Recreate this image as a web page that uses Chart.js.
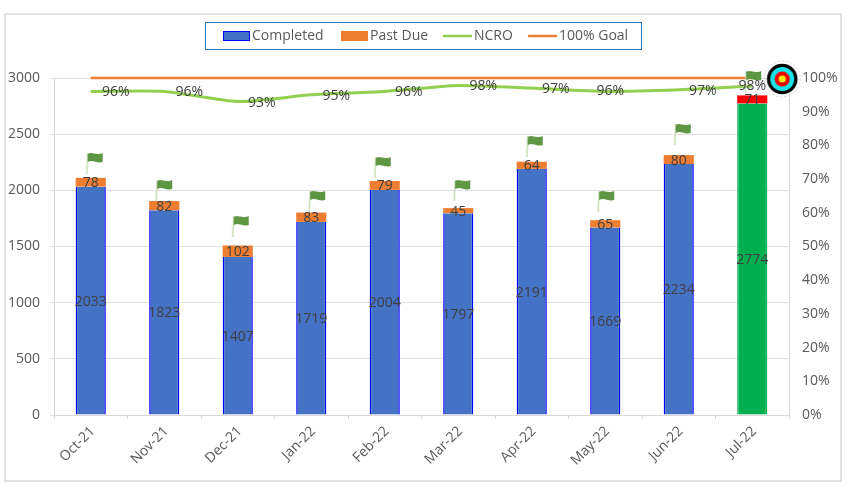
<!DOCTYPE html>
<html><head><meta charset="utf-8">
<script src="https://cdn.jsdelivr.net/npm/chart.js@4"></script>
<style>html,body{margin:0;padding:0;background:#fff}#w{width:849px;height:486px;position:relative}</style>
</head><body><div id="w"><canvas id="c" width="849" height="486"></canvas></div>
<script>
const categories=['Oct-21','Nov-21','Dec-21','Jan-22','Feb-22','Mar-22','Apr-22','May-22','Jun-22','Jul-22'];
const completed=[2033,1823,1407,1719,2004,1797,2191,1669,2234,2774];
const pastDue=[78,82,102,83,79,45,64,65,80,71];
const ncro=[96,96,93,95,96,97.8,97,96,96.5,97.6];
const goal=[100,100,100,100,100,100,100,100,100,100];
const flagLevel=[2288,2047,1727,1950,2252,2047,2439,1950,2546,3018];
const targetLevel=[null,null,null,null,null,null,null,null,null,100];
const legendNames=['Completed','Past Due','NCRO','100% Goal'];
const yTicks=[0,500,1000,1500,2000,2500,3000];

const FONT='"Open Sans", sans-serif', TXT='#404040', AX='#595959';
const BLUE='#4472C4',ORANGE='#ED7D31',LIME='#92D050',GREEN='#00B050',RED='#FF0000';
const flagDx=[4,0,3,6,-2,4,3,1,4,1];
const labelDx=[25,25,24,25,24,25,24,5,24,0];
const labelDy=[1,1,1,1,1,1,1,0,1,0];

function makeFlag(dx){
  const c=document.createElement('canvas');c.width=c.height=80;
  const g=c.getContext('2d');g.translate(40+dx,40);
  g.strokeStyle='#c6dbb8';g.lineWidth=1.5;g.beginPath();g.moveTo(-7,-5);g.lineTo(-8,16);g.stroke();
  g.fillStyle='#5e9644';g.beginPath();g.moveTo(-7,-4);
  g.bezierCurveTo(-3,-7,1,-2,8,-5);g.lineTo(8,4);g.bezierCurveTo(2,6,-2,1,-7,4);g.closePath();g.fill();
  return c;
}
function makeTarget(){
  const c=document.createElement('canvas');c.width=120;c.height=60;
  const g=c.getContext('2d');g.translate(60+30,31);
  g.setLineDash([2,2]);g.strokeStyle='#cfcfcf';g.lineWidth=1;g.beginPath();g.arc(0,0,18,0,7);g.stroke();g.setLineDash([]);
  [[15.3,'#000'],[12,'#19e3e8'],[7.6,'#f00000'],[3.6,'#f6ee10']].forEach(([r,col])=>{g.fillStyle=col;g.beginPath();g.arc(0,0,r,0,7);g.fill();});
  return c;
}
const frame={id:'frame',beforeDraw(ch){const g=ch.ctx;g.save();g.fillStyle='#fff';g.fillRect(0,0,849,486);
  g.strokeStyle='#d9d9d9';g.lineWidth=1.5;g.strokeRect(5,14,836,467);g.restore();}};
const legendBox={id:'legendBox',afterDraw(ch){const g=ch.ctx;g.save();
  g.strokeStyle='#2E75B6';g.lineWidth=1;g.strokeRect(205.5,22.5,436,27);
  const xs=[223,341,444,529],tx=[252,370,474,559];
  g.font='14px '+FONT;g.textBaseline='middle';g.textAlign='left';
  legendNames.forEach((n,i)=>{
    if(i<2){g.fillStyle=i?ORANGE:BLUE;g.fillRect(xs[i],31,27,10);
      if(!i){g.strokeStyle='#0000ff';g.lineWidth=1;g.strokeRect(xs[i]+.5,31.5,26,9);}}
    else{g.strokeStyle=i==2?LIME:ORANGE;g.lineWidth=2.5;g.lineCap='round';g.beginPath();g.moveTo(xs[i],36);g.lineTo(xs[i]+27,36);g.stroke();}
    g.fillStyle=AX;g.fillText(n,tx[i],36);
  });g.restore();}};
const valueLabels={id:'valueLabels',afterDatasetsDraw(ch){const g=ch.ctx;g.save();
  g.font='14px '+FONT;g.fillStyle=TXT;g.textAlign='center';g.textBaseline='middle';
  const mid=(ds,i)=>{const b=ch.getDatasetMeta(ds).data[i];return [b.x,(b.y+b.base)/2];};
  categories.forEach((_,i)=>{
    let p=mid(0,i);g.fillText(String(completed[i]),p[0],p[1]+1);
    p=mid(1,i);g.fillText(String(pastDue[i]),p[0],p[1]+1);
    const n=ch.getDatasetMeta(2).data[i];
    g.fillText(Math.round(ncro[i])+'%',n.x+labelDx[i],n.y+labelDy[i]);
  });g.restore();}};

new Chart(document.getElementById('c'),{
  data:{labels:categories,datasets:[
    {type:'bar',label:legendNames[0],data:completed,yAxisID:'y',stack:'s',order:4,
      backgroundColor:completed.map((_,i)=>i==9?GREEN:BLUE),
      borderColor:completed.map((_,i)=>i==9?GREEN:'#0000ff'),borderWidth:{left:1.5,right:1.5,top:0,bottom:0},barPercentage:.41,categoryPercentage:1},
    {type:'bar',label:legendNames[1],data:pastDue,yAxisID:'y',stack:'s',order:5,
      backgroundColor:pastDue.map((_,i)=>i==9?RED:ORANGE),borderWidth:0,barPercentage:.41,categoryPercentage:1},
    {type:'line',label:legendNames[2],data:ncro,yAxisID:'y1',order:3,borderColor:LIME,borderWidth:3,tension:.2,pointRadius:0},
    {type:'line',label:legendNames[3],data:goal,yAxisID:'y1',order:2,borderColor:ORANGE,borderWidth:2.5,pointRadius:0,clip:false},
    {type:'line',label:'Flag',data:flagLevel,yAxisID:'y',order:1,showLine:false,clip:false,pointRadius:20,
      pointStyle:flagDx.map(makeFlag)},
    {type:'line',label:'Target',data:targetLevel,yAxisID:'y1',order:0,showLine:false,clip:false,pointRadius:20,
      pointStyle:makeTarget()}
  ]},
  options:{responsive:false,animation:false,
    layout:{padding:{top:78,left:0,right:0,bottom:0}},
    plugins:{legend:{display:false},title:{display:false},tooltip:{enabled:false}},
    scales:{
      x:{stacked:true,offset:true,grid:{display:true,drawOnChartArea:false,drawTicks:true,tickLength:4,color:'#d9d9d9'},
        border:{color:'#d9d9d9'},
        ticks:{font:{family:FONT,size:14},color:AX,minRotation:45,maxRotation:45,padding:4,labelOffset:2},
        afterFit(s){s.height=71;}},
      y:{stacked:true,min:0,max:3000,position:'left',
        grid:{color:'#e2e2e2',lineWidth:1,tickLength:4},border:{color:'#d9d9d9'},
        afterBuildTicks(s){s.ticks=yTicks.map(v=>({value:v}));},
        ticks:{font:{family:FONT,size:14},color:AX,padding:10,callback:v=>String(v)},
        afterFit(s){s.width=54;}},
      y1:{min:0,max:100,position:'right',
        grid:{drawOnChartArea:false,drawTicks:false},border:{color:'#d9d9d9'},
        ticks:{stepSize:10,font:{family:FONT,size:14},color:AX,padding:13,callback:v=>v+'%'},
        afterFit(s){s.width=60;}}
    }},
  plugins:[frame,legendBox,valueLabels]
});
</script></body></html>
